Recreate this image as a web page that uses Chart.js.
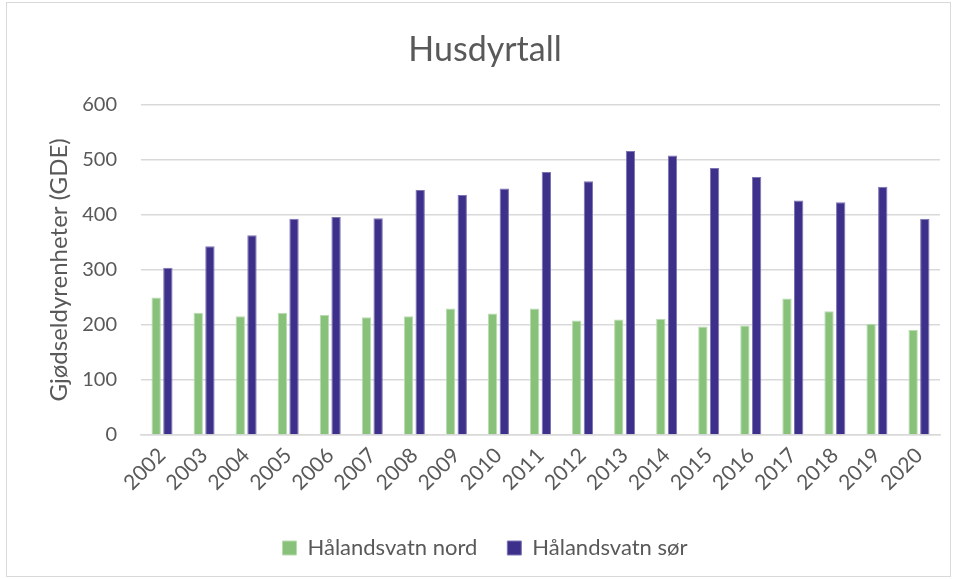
<!DOCTYPE html>
<html>
<head>
<meta charset="utf-8">
<script src="https://cdn.jsdelivr.net/npm/chart.js@4.4.1/dist/chart.umd.min.js"></script>
<style>
  html, body { margin: 0; padding: 0; background: #fff; }
  #frame { position: absolute; left: 6px; top: 2px; width: 943px; height: 573px; border: 1px solid #d9d9d9; }
  #wrap { position: absolute; left: 0; top: 0; width: 955px; height: 579px; }
</style>
</head>
<body>
<div id="frame"></div>
<div id="wrap"><canvas id="chart" width="955" height="579"></canvas></div>
<script>
const years = ['2002','2003','2004','2005','2006','2007','2008','2009','2010','2011',
               '2012','2013','2014','2015','2016','2017','2018','2019','2020'];
const nord = [250, 222, 216, 222, 218, 214, 216, 230, 221, 230,
              208, 210, 211, 197, 199, 248, 225, 202, 191];
const sor = [304, 343, 363, 393, 396, 394, 445, 436, 448, 478,
             461, 516, 508, 485, 469, 426, 423, 451, 393];
const yTicks = [0, 100, 200, 300, 400, 500, 600];

const textColor = '#595959';
const fontFamily = 'Lato, "Open Sans", sans-serif';

const ctx = document.getElementById('chart').getContext('2d');
new Chart(ctx, {
  type: 'bar',
  data: {
    labels: years,
    datasets: [{
      label: 'Hålandsvatn nord',
      data: nord,
      backgroundColor: '#87c17a',
      borderColor: '#b9dcb0',
      borderWidth: 1,
      categoryPercentage: 0.556,
      barPercentage: 0.8
    }, {
      label: 'Hålandsvatn sør',
      data: sor,
      backgroundColor: '#3c308a',
      borderColor: '#7d74b3',
      borderWidth: 1,
      categoryPercentage: 0.556,
      barPercentage: 0.8
    }]
  },
  options: {
    responsive: false,
    animation: false,
    layout: { padding: { left: 30, right: 15, top: 0, bottom: 10 } },
    scales: {
      x: {
        grid: { display: false },
        border: { color: '#d9d9d9', width: 1.5 },
        afterFit: axis => { axis.height = 72; },
        ticks: {
          color: textColor,
          font: { family: fontFamily, size: 21 },
          minRotation: 45,
          maxRotation: 45,
          padding: 0
        }
      },
      y: {
        min: 0,
        max: 600,
        afterBuildTicks: axis => { axis.ticks = yTicks.map(v => ({ value: v })); },
        afterFit: axis => { axis.width = 111; },
        grid: { color: '#d9d9d9', lineWidth: 1.5, drawTicks: false },
        border: { display: false },
        ticks: {
          color: textColor,
          font: { family: fontFamily, size: 20 },
          padding: 24
        },
        title: {
          display: true,
          text: 'Gjødseldyrenheter (GDE)',
          color: textColor,
          font: { family: fontFamily, size: 24 },
          padding: { top: 15, bottom: 0 }
        }
      }
    },
    plugins: {
      title: {
        display: true,
        text: 'Husdyrtall',
        color: textColor,
        font: { family: fontFamily, size: 34, weight: 'normal' },
        padding: { top: 30, bottom: 34 }
      },
      legend: {
        position: 'bottom',
        labels: {
          color: textColor,
          font: { family: fontFamily, size: 22 },
          boxWidth: 14,
          boxHeight: 14,
          padding: 30
        }
      },
      tooltip: { enabled: false }
    }
  }
});
</script>
</body>
</html>
